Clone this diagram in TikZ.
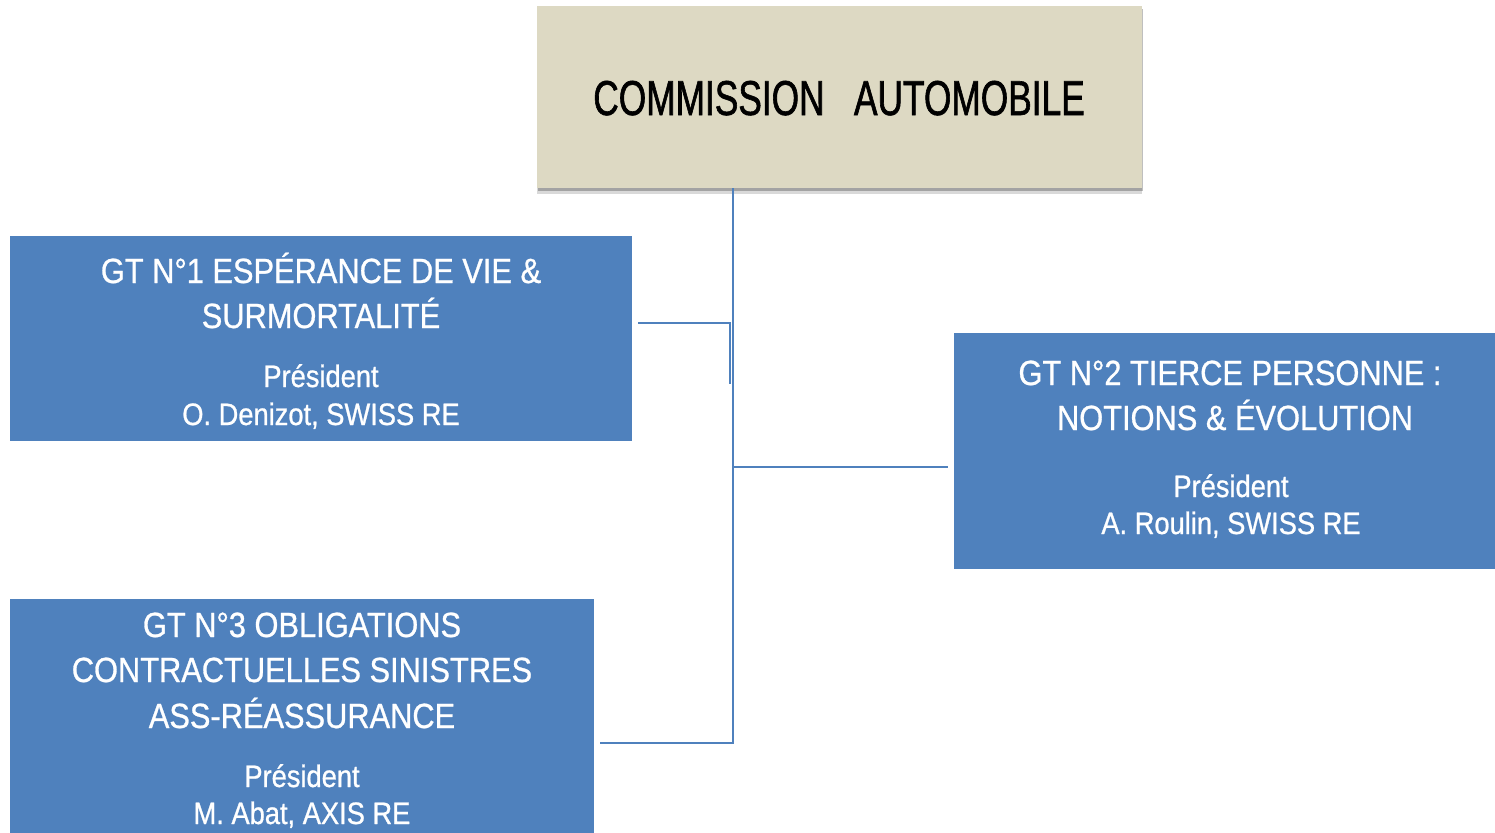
\documentclass[tikz,border=0pt]{standalone}
\usepackage{fontspec}
\setmainfont{Liberation Sans}[FakeStretch=0.88]
\newfontfamily\gtfont{Liberation Sans}[FakeStretch=0.88, FakeBold=0.8]
\newfontfamily\comfont{Liberation Sans}[FakeStretch=0.72, FakeBold=1.2]
\usetikzlibrary{positioning,calc,shadows}
\definecolor{gtblue}{HTML}{4F81BD}
\definecolor{combeige}{HTML}{DDD9C3}
\tikzset{
	gtbox/.style={fill=gtblue, anchor=north west, inner sep=0pt},
	combox/.style={fill=combeige, anchor=north west, inner sep=0pt,
		drop shadow={shadow xshift=0pt, shadow yshift=-6pt, opacity=0.15, fill=black},
		drop shadow={shadow xshift=1pt, shadow yshift=-3pt, opacity=0.25, fill=black}},
	gttitle/.style={anchor=base, inner sep=0pt, text=white, font=\gtfont\fontsize{35}{42}\selectfont},
	gtpres/.style={anchor=base, inner sep=0pt, text=white, font=\gtfont\fontsize{31}{36}\selectfont},
	link/.style={draw=gtblue, line width=2.6pt}
}
\begin{document}
\begin{tikzpicture}[x=1pt, y=-1pt]
		\useasboundingbox (0,0) rectangle (1495,832);
		% boxes
		\node[combox, minimum width=605pt, minimum height=182pt] (com) at (537,6) {};
		\node[gtbox, minimum width=622pt, minimum height=205pt] (gt1) at (10,236) {};
		\node[gtbox, minimum width=541pt, minimum height=236pt] (gt2) at (954,333) {};
		\node[gtbox, minimum width=584pt, minimum height=260pt] (gt3) at (10,599) {};
		% texts
		\node[anchor=base, inner sep=0pt, font=\comfont\fontsize{49}{56}\selectfont] (comt) at (839,115) {COMMISSION\ \ \ AUTOMOBILE};
		\node[gttitle] (gt1a) at (321,283) {GT N°1 ESPÉRANCE DE VIE \&};
		\node[gttitle] (gt1b) at (321,328) {SURMORTALITÉ};
		\node[gtpres] (gt1c) at (321,387) {Président};
		\node[gtpres] (gt1d) at (321,425) {O. Denizot, SWISS RE};
		\node[gttitle] (gt2a) at (1230,385) {GT N°2 TIERCE PERSONNE :};
		\node[gttitle] (gt2b) at (1235,430) {NOTIONS \& ÉVOLUTION};
		\node[gtpres] (gt2c) at (1231,497) {Président};
		\node[gtpres] (gt2d) at (1231,534) {A. Roulin, SWISS RE};
		\node[gttitle] (gt3a) at (302,637) {GT N°3 OBLIGATIONS};
		\node[gttitle] (gt3b) at (302,682) {CONTRACTUELLES SINISTRES};
		\node[gttitle] (gt3c) at (302,728) {ASS-RÉASSURANCE};
		\node[gtpres] (gt3d) at (302,787) {Président};
		\node[gtpres] (gt3e) at (302,824) {M. Abat, AXIS RE};
		% connectors
		\coordinate (j1) at (733,467);
		\coordinate (j2) at (730,323);
		\coordinate (j2e) at (730,384);
		\coordinate (j3) at (733,743);
		\draw[link] (com.south -| j1) -- (j1) -- ($(j1 -| gt2.west)+(-6,0)$);
		\draw[link] ($(j2 -| gt1.east)+(6,0)$) -- (j2) -- (j2e);
		\draw[link] (j1) -- (j3) -- ($(j3 -| gt3.east)+(6,0)$);
	\end{tikzpicture}
\end{document}
